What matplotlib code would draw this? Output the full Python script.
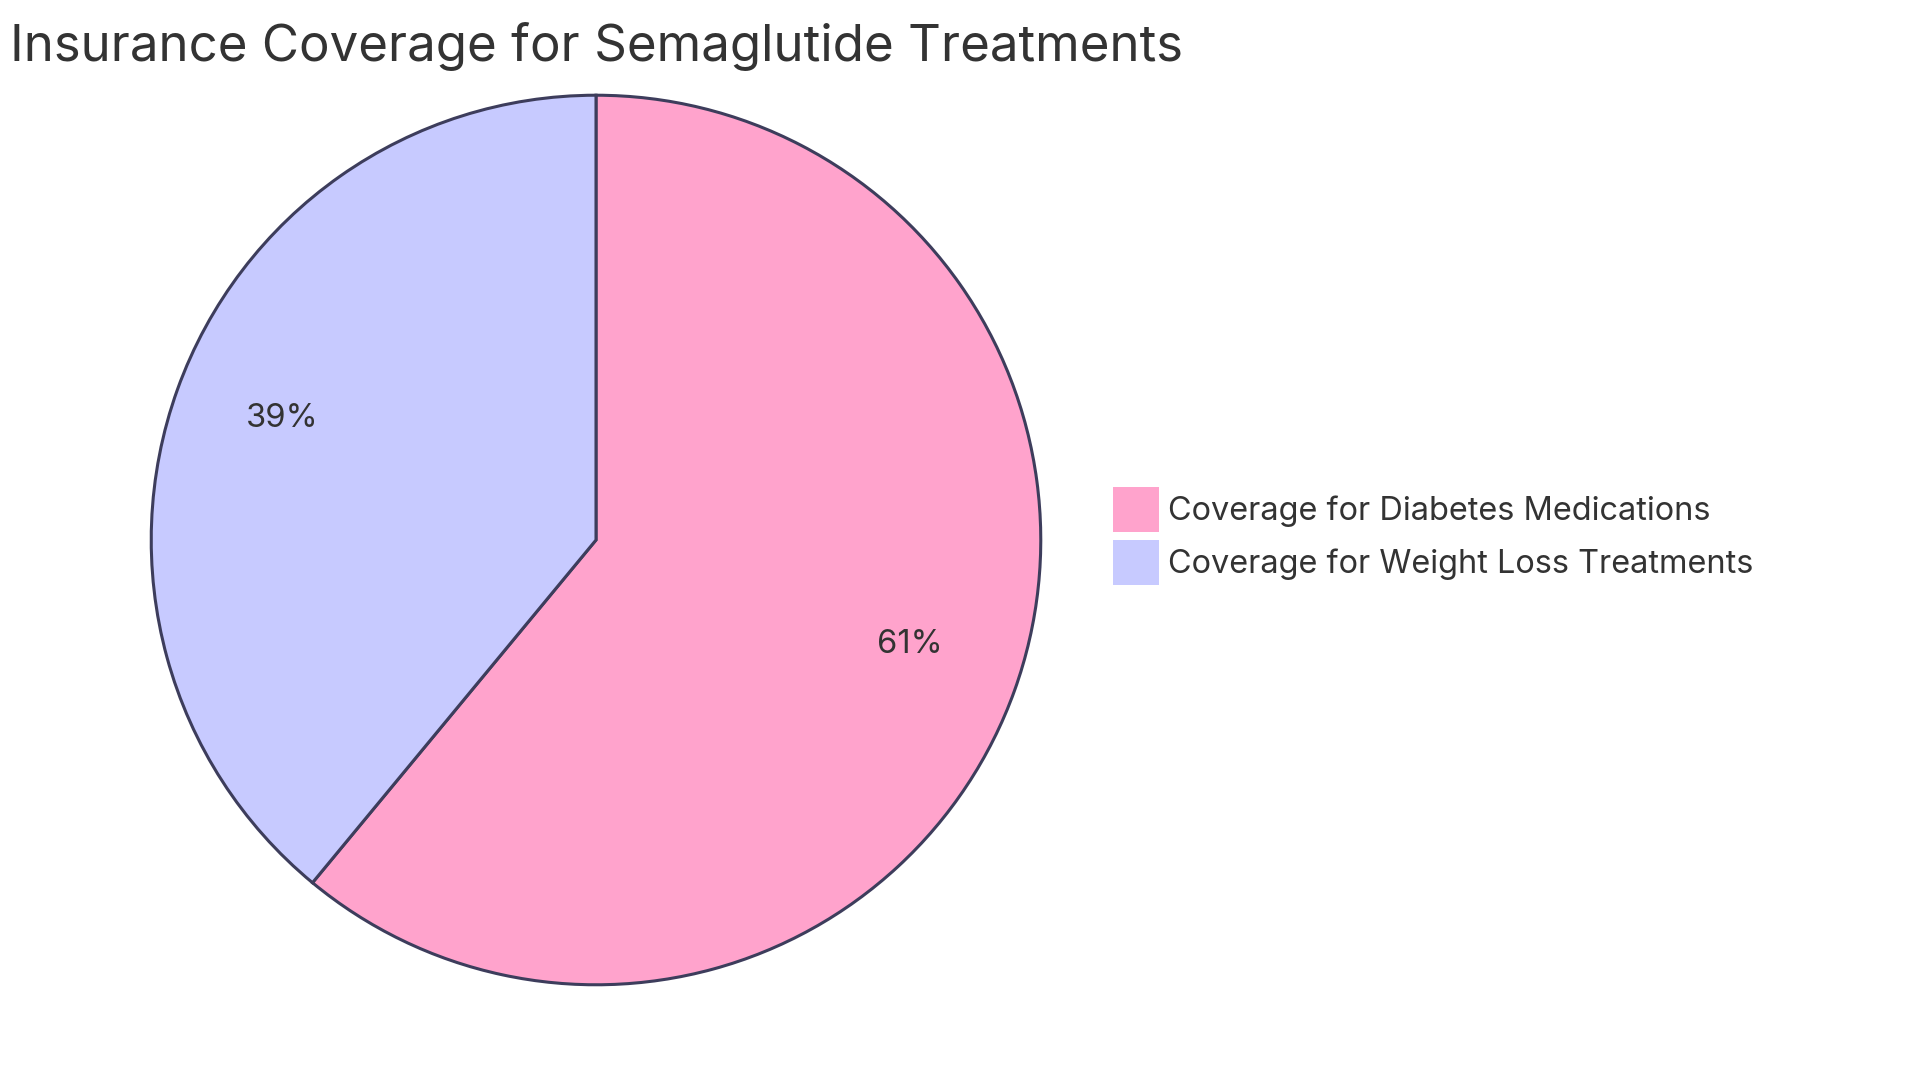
import matplotlib
matplotlib.use("Agg")
import matplotlib.pyplot as plt
from matplotlib.patches import Patch

plt.rcParams['font.family'] = ['Inter', 'DejaVu Sans']

title = "Insurance Coverage for Semaglutide Treatments"
labels = ["Coverage for Diabetes Medications", "Coverage for Weight Loss Treatments"]
values = [61, 39]
colors = ["#ffa3cc", "#c7caff"]
edge = "#3d3d5c"
text_color = "#333333"

W, H = 1920, 1083
fig = plt.figure(figsize=(W / 100, H / 100), dpi=100)
fig.patch.set_facecolor("white")

# pie center and radius in pixels (from top-left)
cx, cy, r = 596, 540, 447
ax = fig.add_axes([(cx - r) / W, (H - cy - r) / H, 2 * r / W, 2 * r / H])
wedges, texts, autotexts = ax.pie(
    values, colors=colors, startangle=90, counterclock=False,
    autopct="%1.0f%%", pctdistance=0.75,
    wedgeprops=dict(edgecolor=edge, linewidth=2.2),
    textprops=dict(color=text_color, fontsize=23.5),
)
# nudge the percentage labels up a little
for t in autotexts:
    x, y = t.get_position()
    t.set_position((x, y + 0.02))
ax.set_xlim(-1.005, 1.005)
ax.set_ylim(-1.005, 1.005)
ax.set_aspect("equal")
ax.axis("off")

fig.text(10 / W, 1 - 22 / H, title, fontsize=36.7, color=text_color,
         ha="left", va="top")

# legend squares ~45px, rows ~53px apart
handles = [Patch(facecolor=c, edgecolor="none") for c in colors]
leg = fig.legend(handles, labels, loc="center left",
                 bbox_to_anchor=(1113 / W, 1 - 536 / H),
                 frameon=False, fontsize=23.4, labelcolor=text_color,
                 handlelength=1.415, handleheight=1.75, handletextpad=0.28,
                 labelspacing=0.25, borderaxespad=0, borderpad=0)

fig.savefig("out.png", dpi=100)
